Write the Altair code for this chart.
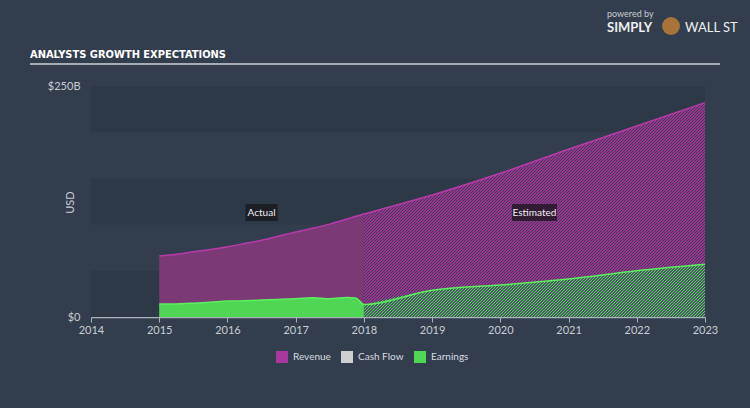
import math
import altair as alt
import pandas as pd

# ---------------- data ----------------
years_actual = [2015.0, 2015.25, 2015.5, 2015.75, 2016.0, 2016.25, 2016.5, 2016.75,
                2017.0, 2017.25, 2017.5, 2017.75, 2017.88, 2018.0]
revenue_actual = [66, 68, 70.5, 73, 76, 79.5, 83, 87.5, 92, 96, 100.5, 106, 109, 111.5]
earnings_actual = [14, 14.2, 15, 16, 17.2, 17.6, 18.3, 19, 19.8, 20.9, 19.8, 21.2, 20.6, 13.5]

years_est = [2018, 2019, 2020, 2021, 2022, 2023]
revenue_est = [111.5, 132, 155.5, 181.5, 206.7, 232]
earnings_est = [13.5, 29, 34.6, 41, 50, 57]

x_ticks = list(range(2014, 2024))
y_ticks = [0, 250]
band_lo = [0, 100, 200]
band_hi = [50, 150, 250]
legend_names = ["Revenue", "Cash Flow", "Earnings"]
legend_colors = ["#a8379d", "#cfcfcf", "#4fd654"]
note_text = ["Actual", "Estimated"]
note_year = [2016.5, 2020.5]
note_value = [113, 113]
title_text = "ANALYSTS GROWTH EXPECTATIONS"

# ---------------- layout ----------------
W, H = 614, 231
XD = [2014, 2023]
YD = [0, 250]

actual = pd.DataFrame({"year": years_actual, "revenue": revenue_actual, "earnings": earnings_actual})
est = pd.DataFrame({"year": years_est, "revenue": revenue_est, "earnings": earnings_est})
full = pd.concat([actual, est.iloc[1:]], ignore_index=True)

xs = alt.Scale(domain=XD, nice=False, zero=False)
ys = alt.Scale(domain=YD, nice=False, zero=False)

AX_COL = "#c9cdd2"
x_axis = alt.Axis(values=x_ticks, format="d", labelColor=AX_COL, labelFontSize=11, labelFont="Lato",
                  tickColor="#aab2bb", tickSize=5, tickWidth=1, domainColor="#aab2bb", domainWidth=1.5,
                  labelPadding=2, grid=False, title=None, labelFlush=False, labelOverlap=False)
y_axis = alt.Axis(values=y_ticks,
                  labelExpr="datum.value == 0 ? '$0' : '$' + datum.value + 'B'",
                  labelColor=AX_COL, labelFontSize=11, labelFont="Lato", ticks=False, domain=False,
                  grid=False, labelPadding=11, labelFlush=False, labelOverlap=False,
                  title="USD", titleColor=AX_COL, titleFont="Lato", titleFontSize=11,
                  titleFontWeight="normal", titleX=-21, titleY=116, titleAngle=-90,
                  titleAlign="center", titleBaseline="middle")

X = lambda f: alt.X(f, scale=xs, axis=x_axis)
Y = lambda f: alt.Y(f, scale=ys, axis=y_axis)


def hatch(c1, c2, w, h, hperiod=3, frac=0.5):
    # diagonal "////" stripes whose horizontal period is a whole number of pixels
    r = h / w
    n = int(math.ceil((w + h) / hperiod))
    L = hperiod * n
    k = L / (w * (1 + r * r))
    stops = []
    for i in range(n):
        a = i / n
        b = (i + frac) / n
        c = (i + 1) / n
        stops += [alt.GradientStop(color=c1, offset=a), alt.GradientStop(color=c1, offset=b),
                  alt.GradientStop(color=c2, offset=b), alt.GradientStop(color=c2, offset=c)]
    return alt.LinearGradient(gradient="linear", stops=stops, x1=0, y1=0, x2=k, y2=k * r)


est_w = W * (years_est[-1] - years_est[0]) / (XD[1] - XD[0])
rev_h = H * max(revenue_est) / YD[1]
earn_h = H * max(earnings_est) / YD[1]

bands = alt.Chart(pd.DataFrame({"lo": band_lo, "hi": band_hi})).mark_rect(color="#2d3946").encode(
    x=alt.X(datum=XD[0], type="quantitative", scale=xs, axis=x_axis),
    x2=alt.X2(datum=XD[1]),
    y=Y("lo:Q"), y2="hi:Q")

rev_act = alt.Chart(actual).mark_area(color="#7b3a76", interpolate="monotone").encode(
    x=X("year:Q"), y=Y("revenue:Q"))
rev_est = alt.Chart(est).mark_area(fill=hatch("#9a3690", "#3c3858", est_w, rev_h),
                                   interpolate="monotone").encode(x=X("year:Q"), y=Y("revenue:Q"))
earn_act = alt.Chart(actual).mark_area(color="#4fd654", interpolate="monotone").encode(
    x=X("year:Q"), y=Y("earnings:Q"))
earn_est = alt.Chart(est).mark_area(fill=hatch("#52d454", "#4d5868", est_w, earn_h, frac=0.55),
                                    interpolate="monotone").encode(x=X("year:Q"), y=Y("earnings:Q"))
rev_line = alt.Chart(full).mark_line(color="#b93aab", strokeWidth=1.5, interpolate="monotone").encode(
    x=X("year:Q"), y=Y("revenue:Q"))
earn_line = alt.Chart(full).mark_line(color="#5cf05e", strokeWidth=1.5, interpolate="monotone").encode(
    x=X("year:Q"), y=Y("earnings:Q"))

notes = pd.DataFrame({"t": note_text, "year": note_year, "v": note_value})
note_box1 = alt.Chart(notes.iloc[[0]]).mark_rect(height=17, width=32, color="#1b1e24").encode(
    x=X("year:Q"), y=Y("v:Q"))
note_box2 = alt.Chart(notes.iloc[[1]]).mark_rect(height=17, width=45, color="#2a1a2c", opacity=0.9).encode(
    x=X("year:Q"), y=Y("v:Q"))
note_txt = alt.Chart(notes).mark_text(color="#f0f0f0", fontSize=10, font="Lato").encode(
    x=X("year:Q"), y=Y("v:Q"), text="t:N")

legend_layer = alt.Chart(pd.DataFrame({"name": legend_names})).mark_square(opacity=0).encode(
    color=alt.Color("name:N", scale=alt.Scale(domain=legend_names, range=legend_colors),
                    legend=alt.Legend(orient="none", legendX=185, legendY=265, direction="horizontal",
                                      title=None, symbolType="square", symbolSize=144, symbolOpacity=1,
                                      symbolStrokeWidth=0, labelColor="#d8dbe0", labelFontSize=10,
                                      labelFont="Lato", columnPadding=10, labelOffset=5)))

title = alt.Chart(pd.DataFrame({"t": [title_text]})).mark_text(
    align="left", baseline="alphabetic", font="DejaVu Sans Condensed", fontWeight="bold",
    fontSize=11, color="#ffffff").encode(x=alt.value(-61), y=alt.value(-28), text="t:N")
underline = alt.Chart(pd.DataFrame({"a": [0]})).mark_rule(color="#cfd3d8", strokeWidth=1.5).encode(
    x=alt.value(-61), x2=alt.value(629), y=alt.value(-22))
powered = alt.Chart(pd.DataFrame({"t": ["powered by"]})).mark_text(
    align="left", baseline="alphabetic", font="Lato", fontSize=9, color="#c8ccd0").encode(
    x=alt.value(516), y=alt.value(-69), text="t:N")
simply = alt.Chart(pd.DataFrame({"t": ["SIMPLY"]})).mark_text(
    align="left", baseline="alphabetic", font="Lato", fontWeight="bold", fontSize=13, color="#eeeeee").encode(
    x=alt.value(516), y=alt.value(-54), text="t:N")
wall = alt.Chart(pd.DataFrame({"t": ["WALL ST"]})).mark_text(
    align="left", baseline="alphabetic", font="Lato", fontSize=13, color="#eeeeee").encode(
    x=alt.value(594), y=alt.value(-54), text="t:N")
bull = alt.Chart(pd.DataFrame({"a": [0]})).mark_point(
    filled=True, shape="circle", size=320, color="#a8743a", opacity=1).encode(
    x=alt.value(580), y=alt.value(-60))

chart = alt.layer(
    bands, rev_act, rev_est, earn_act, earn_est, rev_line, earn_line,
    note_box1, note_box2, note_txt, legend_layer, title, underline, powered, simply, wall, bull
).properties(
    width=W, height=H,
    autosize=alt.AutoSizeParams(type="none"),
    padding={"left": 91, "top": 86, "right": 45, "bottom": 91},
    background="#323e4d",
).configure_view(stroke=None, fill="#35434f")

chart.save("out.html", embed_options={"renderer": "svg", "actions": False})
